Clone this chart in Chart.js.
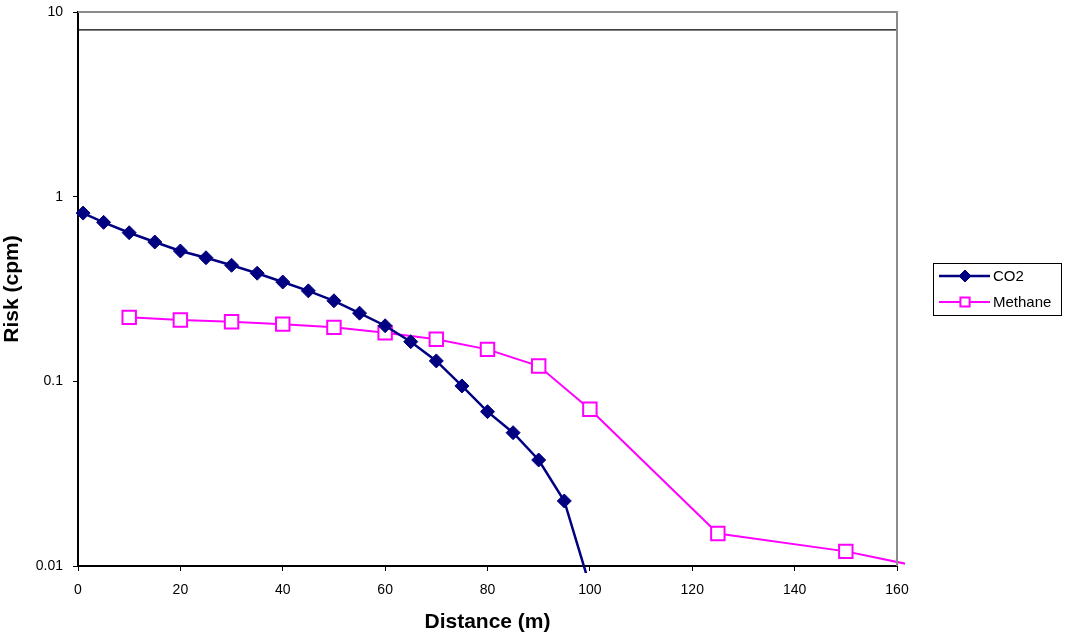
<!DOCTYPE html>
<html>
<head>
<meta charset="utf-8">
<script src="https://cdn.jsdelivr.net/npm/chart.js@4.4.1/dist/chart.umd.min.js"></script>
<style>
  html, body { margin: 0; padding: 0; background: #fff; }
  #wrap { width: 1068px; height: 637px; }
</style>
</head>
<body>
<div id="wrap"><canvas id="c" width="1068" height="637"></canvas></div>
<script>
// ---- data ----
const co2Distance = [1, 5, 10, 15, 20, 25, 30, 35, 40, 45, 50, 55, 60, 65, 70, 75, 80, 85, 90, 95, 100];
const co2Risk     = [0.815, 0.726, 0.638, 0.568, 0.508, 0.467, 0.425, 0.385, 0.345, 0.309, 0.273, 0.234, 0.200, 0.164, 0.129, 0.0944, 0.0685, 0.0527, 0.0375, 0.0225, 0.0078];
const methaneDistance = [10, 20, 30, 40, 50, 60, 70, 80, 90, 100, 125, 150, 200];
const methaneRisk     = [0.222, 0.215, 0.210, 0.204, 0.196, 0.183, 0.169, 0.149, 0.121, 0.0706, 0.0150, 0.0120, 0.0062];
const limitDistance = [0, 160];
const limitRisk     = [8, 8];
const seriesNames = ['CO2', 'Methane'];
const yTickValues = [0.01, 0.1, 1, 10];
const xTickStep = 20;
const xMin = 0, xMax = 160;
const yMin = 0.01, yMax = 10;

const pts = (xs, ys) => xs.map((x, i) => ({ x: x, y: ys[i] }));

const FONT = "'Liberation Sans', Arial, sans-serif";

const framePlugin = {
  id: 'frame',
  afterDatasetsDraw(chart) {
    const { ctx, chartArea: a } = chart;
    ctx.save();
    ctx.strokeStyle = '#8c8c8c';
    ctx.lineWidth = 2;
    ctx.beginPath();
    ctx.moveTo(a.left, a.top);
    ctx.lineTo(a.right, a.top);
    ctx.lineTo(a.right, a.bottom);
    ctx.stroke();
    ctx.restore();
  }
};

function drawMarker(ctx, style, x, y, r) {
  if (style === 'rectRot') {
    ctx.moveTo(x - r, y); ctx.lineTo(x, y - r); ctx.lineTo(x + r, y); ctx.lineTo(x, y + r); ctx.closePath();
  } else {
    const s = r * Math.SQRT1_2;
    ctx.rect(x - s, y - s, 2 * s, 2 * s);
  }
}

const legendPlugin = {
  id: 'excelLegend',
  afterDraw(chart) {
    const { ctx } = chart;
    const box = { x: 933.5, y: 263.5, w: 128, h: 52 };
    ctx.save();
    ctx.fillStyle = '#fff';
    ctx.fillRect(box.x, box.y, box.w, box.h);
    ctx.strokeStyle = '#000';
    ctx.lineWidth = 1;
    ctx.strokeRect(box.x, box.y, box.w, box.h);
    const rows = [276, 302];
    chart.data.datasets.filter(d => !d.hideInLegend).forEach((ds, i) => {
      const yy = rows[i];
      ctx.strokeStyle = ds.borderColor;
      ctx.lineWidth = ds.borderWidth;
      ctx.beginPath();
      ctx.moveTo(939, yy);
      ctx.lineTo(990, yy);
      ctx.stroke();
      ctx.fillStyle = ds.pointBackgroundColor;
      ctx.strokeStyle = ds.pointBorderColor;
      ctx.lineWidth = ds.pointBorderWidth;
      ctx.beginPath();
      drawMarker(ctx, ds.pointStyle, 965, yy, ds.legendRadius);
      ctx.fill();
      ctx.stroke();
      ctx.fillStyle = '#000';
      ctx.font = '15px ' + FONT;
      ctx.textBaseline = 'middle';
      ctx.textAlign = 'left';
      ctx.fillText(ds.label, 993, yy + 1);
    });
    ctx.restore();
  }
};

new Chart(document.getElementById('c'), {
  type: 'line',
  data: {
    datasets: [
      {
        label: seriesNames[0],
        data: pts(co2Distance, co2Risk),
        borderColor: '#000080',
        backgroundColor: '#000080',
        borderWidth: 2.5,
        pointStyle: 'rectRot',
        pointRadius: 7,
        legendRadius: 6,
        pointBackgroundColor: '#000080',
        pointBorderColor: '#000080',
        pointBorderWidth: 1,
        tension: 0,
        clip: 7
      },
      {
        label: seriesNames[1],
        data: pts(methaneDistance, methaneRisk),
        borderColor: '#ff00ff',
        backgroundColor: '#ffffff',
        borderWidth: 2,
        pointStyle: 'rect',
        pointRadius: 9.5,
        legendRadius: 6.5,
        pointBackgroundColor: '#ffffff',
        pointBorderColor: '#ff00ff',
        pointBorderWidth: 2,
        tension: 0,
        clip: 8
      },
      {
        label: 'limit',
        hideInLegend: true,
        data: pts(limitDistance, limitRisk),
        borderColor: '#000000',
        borderWidth: 1.3,
        pointRadius: 0,
        tension: 0
      }
    ]
  },
  options: {
    responsive: false,
    animation: false,
    devicePixelRatio: 1,
    layout: { padding: { left: 0, top: 12, right: 171, bottom: 0 } },
    plugins: {
      legend: { display: false },
      tooltip: { enabled: false }
    },
    scales: {
      x: {
        type: 'linear',
        min: xMin, max: xMax,
        afterFit(s) { s.height = 71; s.paddingLeft = 0; s.paddingRight = 0; },
        ticks: {
          stepSize: xTickStep,
          color: '#000',
          font: { family: FONT, size: 14 },
          padding: 11,
          maxRotation: 0
        },
        grid: { drawOnChartArea: false, drawTicks: true, tickLength: 5, color: '#000', tickWidth: 1 },
        border: { display: true, color: '#000', width: 2 },
        title: {
          display: true,
          text: 'Distance (m)',
          color: '#000',
          font: { family: FONT, size: 21, weight: 'bold' },
          padding: { top: 0, bottom: 2 }
        }
      },
      y: {
        type: 'logarithmic',
        min: yMin, max: yMax,
        afterFit(s) { s.width = 78; s.paddingTop = 0; s.paddingBottom = 0; },
        afterBuildTicks(s) { s.ticks = yTickValues.map(v => ({ value: v })); },
        ticks: {
          color: '#000',
          font: { family: FONT, size: 14 },
          padding: 10,
          callback: v => String(v)
        },
        grid: { drawOnChartArea: false, drawTicks: true, tickLength: 5, color: '#000', tickWidth: 1 },
        border: { display: true, color: '#000', width: 2 },
        title: {
          display: true,
          text: 'Risk (cpm)',
          color: '#000',
          font: { family: FONT, size: 21, weight: 'bold' },
          padding: { top: 0, bottom: 0 }
        }
      }
    }
  },
  plugins: [framePlugin, legendPlugin]
});
</script>
</body>
</html>
